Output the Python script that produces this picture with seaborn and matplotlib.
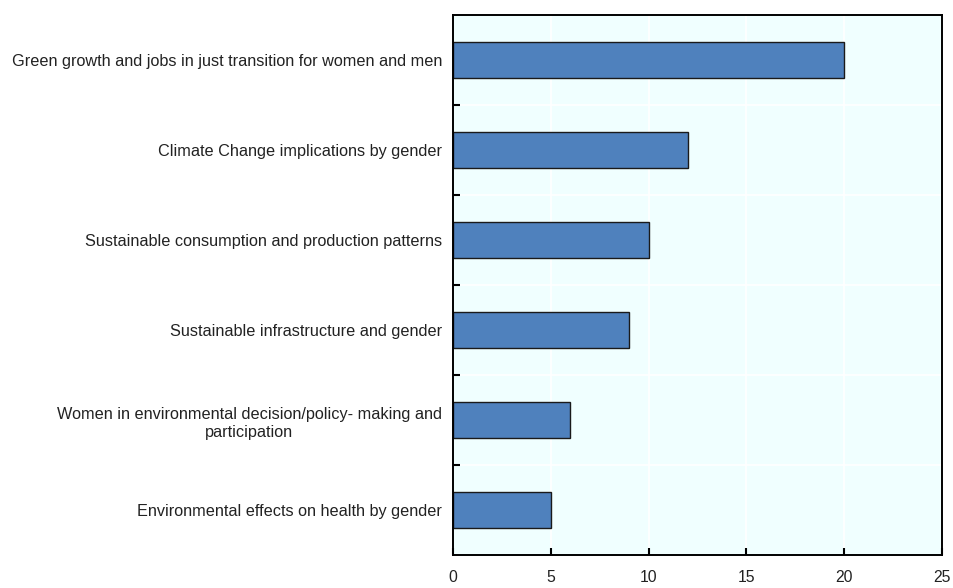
import matplotlib
matplotlib.use("Agg")
import matplotlib.pyplot as plt
import seaborn as sns
import pandas as pd

categories = [
    "Green growth and jobs in just transition for women and men",
    "Climate Change implications by gender",
    "Sustainable consumption and production patterns",
    "Sustainable infrastructure and gender",
    "Women in environmental decision/policy- making and\nparticipation",
    "Environmental effects on health by gender",
]
values = [20, 12, 10, 9, 6, 5]

df = pd.DataFrame({"topic": categories, "count": values})

sns.set_style("white")
plt.rcParams["font.family"] = ["Liberation Sans", "DejaVu Sans"]

fig = plt.figure(figsize=(9.54, 5.88), dpi=100)
ax = fig.add_axes([453 / 954, 1 - 555 / 588, (942 - 453) / 954, (555 - 15) / 588])
ax.set_facecolor("#F0FFFF")

sns.barplot(data=df, x="count", y="topic", orient="h", color="#4F81BD",
            saturation=1, width=0.4, edgecolor="#1a1a1a", linewidth=1, ax=ax)

ax.set_xlim(0, 25)
ax.set_ylim(5.5, -0.5)
ax.set_xticks(range(0, 26, 5))
ax.set_xlabel("")
ax.set_ylabel("")

# boundaries between categories
ax.set_yticks([i + 0.5 for i in range(5)], minor=True)
ax.tick_params(axis="y", which="major", left=False, length=0, pad=8, labelsize=11.7,
               labelcolor="#222222")
ax.tick_params(axis="y", which="minor", left=True, direction="in", length=5, width=1.5,
               color="black")
ax.tick_params(axis="x", which="major", bottom=True, direction="in", length=5, width=1.5,
               pad=11, labelsize=11.3, labelcolor="#222222", color="black")
for lbl in ax.get_yticklabels():
    lbl.set_horizontalalignment("right")
    lbl.set_multialignment("center")
    lbl.set_linespacing(1.3)

ax.grid(True, axis="x", which="major", color="white", linewidth=1.2)
ax.grid(True, axis="y", which="minor", color="white", linewidth=1.2)
ax.set_axisbelow(True)

for s in ax.spines.values():
    s.set_visible(True)
    s.set_color("black")
    s.set_linewidth(1.4)

fig.savefig("out.png", dpi=100)
